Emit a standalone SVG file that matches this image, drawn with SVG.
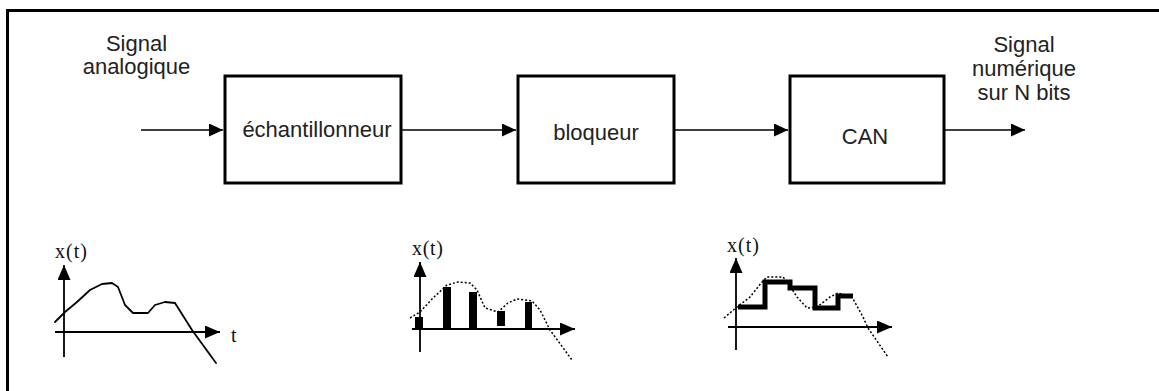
<svg xmlns="http://www.w3.org/2000/svg" width="1159" height="391" viewBox="0 0 1159 391">
  <style>
    .frame { fill: none; stroke: #000; stroke-width: 3; }
    .block { fill: #fff; stroke: #000; stroke-width: 3; }
    .label { font-family: "Liberation Sans", Arial, sans-serif; font-size: 22px; fill: #222; text-anchor: middle; }
    .wire { fill: none; stroke: #000; stroke-width: 1.6; marker-end: url(#head); }
    .axis { fill: none; stroke: #000; stroke-width: 1.8; marker-end: url(#axisHead); }
    .math { font-family: "Liberation Serif", "Times New Roman", serif; font-size: 20px; fill: #111; }
    .signal { fill: none; stroke: #000; stroke-width: 1.8; stroke-linejoin: round; stroke-linecap: round; }
    .trace { fill: none; stroke: #000; stroke-width: 1.5; stroke-dasharray: 2 2; }
    .stairs { fill: none; stroke: #000; stroke-width: 5; stroke-linejoin: miter; }
    .sample { fill: #000; }
  </style>
  <defs>
    <marker id="head" viewBox="0 0 14 13" refX="14" refY="6.5" markerWidth="14" markerHeight="13" markerUnits="userSpaceOnUse" orient="auto">
      <path d="M0,0 L14,6.5 L0,13 Z" fill="#000"/>
    </marker>
    <marker id="axisHead" viewBox="0 0 15 13" refX="15" refY="6.5" markerWidth="15" markerHeight="13" markerUnits="userSpaceOnUse" orient="auto">
      <path d="M0,0 L15,6.5 L0,13 Z" fill="#000"/>
    </marker>
  </defs>

  <rect width="1159" height="391" fill="#fff"/>
  <!-- outer frame, running past the right and bottom edges -->
  <rect class="frame" x="7.5" y="10.5" width="1200" height="500"/>

  <!-- input / output labels -->
  <g id="input-label">
    <text class="label" x="136.5" y="51">Signal</text>
    <text class="label" x="136.5" y="74">analogique</text>
  </g>
  <g id="output-label">
    <text class="label" x="1024" y="52">Signal</text>
    <text class="label" x="1024" y="76">numérique</text>
    <text class="label" x="1024" y="100">sur N bits</text>
  </g>

  <!-- processing chain -->
  <g id="echantillonneur">
    <rect class="block" x="225" y="76" width="176" height="107"/>
    <text class="label" x="317" y="137">échantillonneur</text>
  </g>
  <g id="bloqueur">
    <rect class="block" x="518" y="76" width="156" height="107"/>
    <text class="label" x="596" y="140">bloqueur</text>
  </g>
  <g id="can">
    <rect class="block" x="790" y="76" width="154" height="107"/>
    <text class="label" x="865" y="144">CAN</text>
  </g>

  <g id="connectors">
    <line class="wire" x1="141" y1="130" x2="223" y2="130"/>
    <line class="wire" x1="401" y1="130" x2="516" y2="130"/>
    <line class="wire" x1="674" y1="130" x2="788" y2="130"/>
    <line class="wire" x1="944" y1="130" x2="1025" y2="130"/>
  </g>

  <!-- analog signal -->
  <g id="graph-analog">
    <text class="math" x="55" y="258" textLength="32">x(t)</text>
    <line class="axis" x1="64" y1="357" x2="64" y2="265"/>
    <line class="axis" x1="55" y1="332" x2="220" y2="332"/>
    <text class="math" x="231" y="342">t</text>
    <polyline class="signal" points="55,322 60,317 65,312 77,302 90,290 102,284 112,283 118,287 125,305 133,313 148,313 155,305 165,302 175,303 192,330 216,363"/>
  </g>

  <!-- sampled signal -->
  <g id="graph-sampled">
    <text class="math" x="412" y="255" textLength="31">x(t)</text>
    <line class="axis" x1="420" y1="352" x2="420" y2="262"/>
    <line class="axis" x1="412" y1="329" x2="575" y2="329"/>
    <polyline class="trace" points="410,318 420,312 433,298 447,285 458,282 470,283 477,290 485,308 498,312 508,303 517,299 532,301 540,310 550,330 572,360"/>
    <rect class="sample" x="415" y="317" width="8" height="12"/>
    <rect class="sample" x="443" y="287" width="8" height="42"/>
    <rect class="sample" x="469" y="292" width="8" height="37"/>
    <rect class="sample" x="497" y="311" width="8" height="15"/>
    <rect class="sample" x="525" y="302" width="7" height="27"/>
  </g>

  <!-- held signal -->
  <g id="graph-held">
    <text class="math" x="727" y="252" textLength="32">x(t)</text>
    <line class="axis" x1="736" y1="350" x2="736" y2="258"/>
    <line class="axis" x1="728" y1="327" x2="892" y2="327"/>
    <polyline class="trace" points="724,318 737,307 750,297 762,282 767,277 783,277 788,283 797,297 807,308 817,307 830,297 838,293 852,297 863,317 868,328 888,357"/>
    <path class="stairs" d="M738,307 H765 V282 H790 V288 H815 V308 H838 V296 H853"/>
  </g>
</svg>
